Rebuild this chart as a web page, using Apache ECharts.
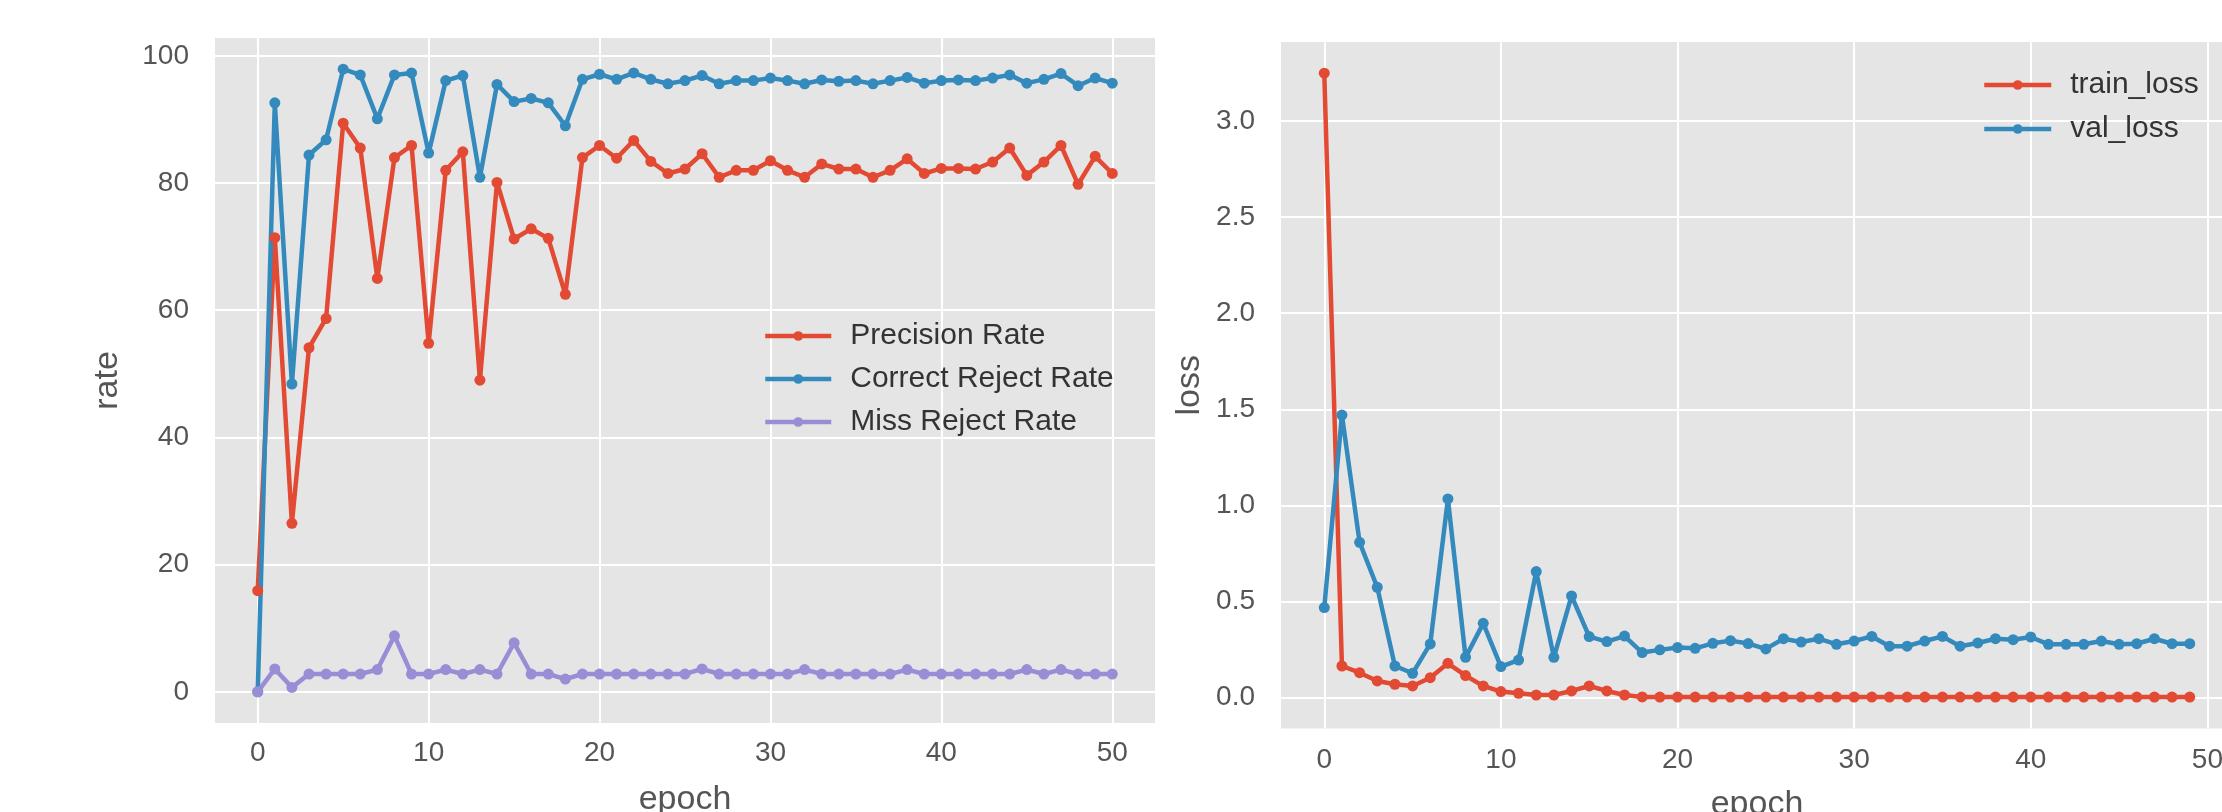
<!DOCTYPE html>
<html>
<head>
<meta charset="utf-8">
<script src="https://cdn.jsdelivr.net/npm/echarts@6/dist/echarts.min.js"></script>
<style>
html,body{margin:0;padding:0;background:#fff;}
#chart{width:2222px;height:812px;}
</style>
</head>
<body>
<div id="chart"></div>
<script>
// ---- data (left panel: epochs 0..50) ----
const precisionRate = [15.9,71.4,26.5,54.1,58.7,89.4,85.5,65.0,84.0,85.9,
  54.8,82.0,84.9,49.0,80.1,71.2,72.8,71.3,62.5,84.0,
  85.9,83.9,86.7,83.4,81.5,82.2,84.6,80.9,82.0,82.0,
  83.5,82.0,80.9,83.0,82.2,82.2,80.9,82.0,83.8,81.5,
  82.3,82.3,82.2,83.3,85.5,81.2,83.3,85.9,79.8,84.2,81.5];
const correctRejectRate = [0.0,92.6,48.4,84.4,86.8,97.9,97.0,90.1,97.0,97.3,
  84.7,96.1,96.9,80.9,95.5,92.8,93.3,92.6,89.0,96.3,
  97.1,96.3,97.3,96.3,95.6,96.1,96.9,95.6,96.1,96.1,
  96.5,96.1,95.6,96.2,96.0,96.1,95.6,96.1,96.6,95.7,
  96.1,96.2,96.1,96.5,97.0,95.7,96.3,97.2,95.3,96.5,95.7];
const missRejectRate = [0.0,3.6,0.7,2.8,2.8,2.8,2.8,3.5,8.8,2.8,
  2.8,3.5,2.8,3.5,2.8,7.7,2.8,2.8,2.0,2.8,
  2.8,2.8,2.8,2.8,2.8,2.8,3.6,2.8,2.8,2.8,
  2.8,2.8,3.5,2.8,2.8,2.8,2.8,2.8,3.5,2.8,
  2.8,2.8,2.8,2.8,2.8,3.5,2.8,3.5,2.8,2.8,2.8];

// ---- data (right panel: epochs 0..49) ----
const trainLoss = [3.25,0.163,0.128,0.085,0.068,0.059,0.102,0.177,0.113,0.059,
  0.030,0.021,0.012,0.012,0.033,0.059,0.033,0.012,0.002,0.001,
  0.001,0.001,0.001,0.001,0.001,0.001,0.001,0.001,0.001,0.001,
  0.001,0.001,0.001,0.001,0.001,0.001,0.001,0.001,0.001,0.001,
  0.001,0.001,0.001,0.001,0.001,0.001,0.001,0.001,0.001,0.001];
const valLoss = [0.467,1.470,0.807,0.573,0.163,0.125,0.278,1.033,0.208,0.385,
  0.160,0.194,0.655,0.208,0.528,0.316,0.290,0.319,0.233,0.247,
  0.259,0.255,0.281,0.295,0.280,0.252,0.305,0.288,0.305,0.276,
  0.293,0.317,0.266,0.266,0.293,0.317,0.266,0.283,0.305,0.300,
  0.314,0.276,0.276,0.276,0.293,0.276,0.279,0.305,0.279,0.279];

// ---- tick labels ----
const epochTicks = [0,10,20,30,40,50];
const rateTicks = [0,20,40,60,80,100];
const lossTicks = [0,0.5,1.0,1.5,2.0,2.5,3.0];

const RED = '#E24A33', BLUE = '#348ABD', PURPLE = '#988ED5';
const FONT = 'Liberation Sans';
const toXY = arr => arr.map((v, i) => [i, v]);

function xAxisCfg(gridIndex, min, max, nameGap, margin) {
  return {
    type: 'value', gridIndex, min, max,
    name: 'epoch', nameLocation: 'middle', nameGap,
    nameTextStyle: {color: '#555555', fontSize: 34, fontFamily: FONT},
    axisLine: {show: false},
    axisTick: {show: false, customValues: epochTicks},
    axisLabel: {customValues: epochTicks, color: '#555555', fontSize: 28, fontFamily: FONT, margin},
    splitLine: {show: true, lineStyle: {color: '#ffffff', width: 2}}
  };
}
function yAxisCfg(gridIndex, min, max, name, nameGap, ticks, fmt) {
  return {
    type: 'value', gridIndex, min, max,
    name, nameLocation: 'middle', nameGap,
    nameTextStyle: {color: '#555555', fontSize: 34, fontFamily: FONT},
    axisLine: {show: false},
    axisTick: {show: false, customValues: ticks},
    axisLabel: {customValues: ticks, color: '#555555', fontSize: 28, fontFamily: FONT, margin: 26, formatter: fmt},
    splitLine: {show: true, lineStyle: {color: '#ffffff', width: 2}}
  };
}
function lineSeries(name, color, arr, xi, yi) {
  return {
    type: 'line', name, xAxisIndex: xi, yAxisIndex: yi,
    data: toXY(arr), symbol: 'circle', symbolSize: 11, showSymbol: true,
    lineStyle: {color, width: 4.5}, itemStyle: {color}, z: 3
  };
}
const legendText = {color: '#333333', fontSize: 30, fontFamily: FONT, lineHeight: 30, padding: [0, 0, 0, 14]};

const chart = echarts.init(document.getElementById('chart'), null, {renderer: 'canvas'});
chart.setOption({
  animation: false,
  backgroundColor: '#ffffff',
  grid: [
    {left: 215, top: 38, width: 940, height: 685, show: true, backgroundColor: '#E5E5E5', borderWidth: 0,
     containLabel: false, outerBoundsMode: 'none'},
    {left: 1281, top: 42, width: 952, height: 686.5, show: true, backgroundColor: '#E5E5E5', borderWidth: 0,
     containLabel: false, outerBoundsMode: 'none'}
  ],
  xAxis: [
    xAxisCfg(0, -2.5, 52.5, 60, 16),
    xAxisCfg(1, -2.45, 51.45, 59, 18)
  ],
  yAxis: [
    yAxisCfg(0, -4.9, 102.8, 'rate', 90, rateTicks, v => String(v)),
    yAxisCfg(1, -0.1625, 3.4125, 'loss', 74, lossTicks, v => v.toFixed(1))
  ],
  legend: [
    {
      data: ['Precision Rate', 'Correct Reject Rate', 'Miss Reject Rate'],
      orient: 'vertical', left: 758, top: 316,
      itemWidth: 66, itemHeight: 12, itemGap: 13,
      lineStyle: {width: 4.5},
      textStyle: legendText
    },
    {
      data: ['train_loss', 'val_loss'],
      orient: 'vertical', left: 1977, top: 65,
      itemWidth: 67, itemHeight: 12, itemGap: 14,
      lineStyle: {width: 4.5},
      textStyle: legendText
    }
  ],
  series: [
    lineSeries('Precision Rate', RED, precisionRate, 0, 0),
    lineSeries('Correct Reject Rate', BLUE, correctRejectRate, 0, 0),
    lineSeries('Miss Reject Rate', PURPLE, missRejectRate, 0, 0),
    lineSeries('train_loss', RED, trainLoss, 1, 1),
    lineSeries('val_loss', BLUE, valLoss, 1, 1)
  ]
});
</script>
</body>
</html>
